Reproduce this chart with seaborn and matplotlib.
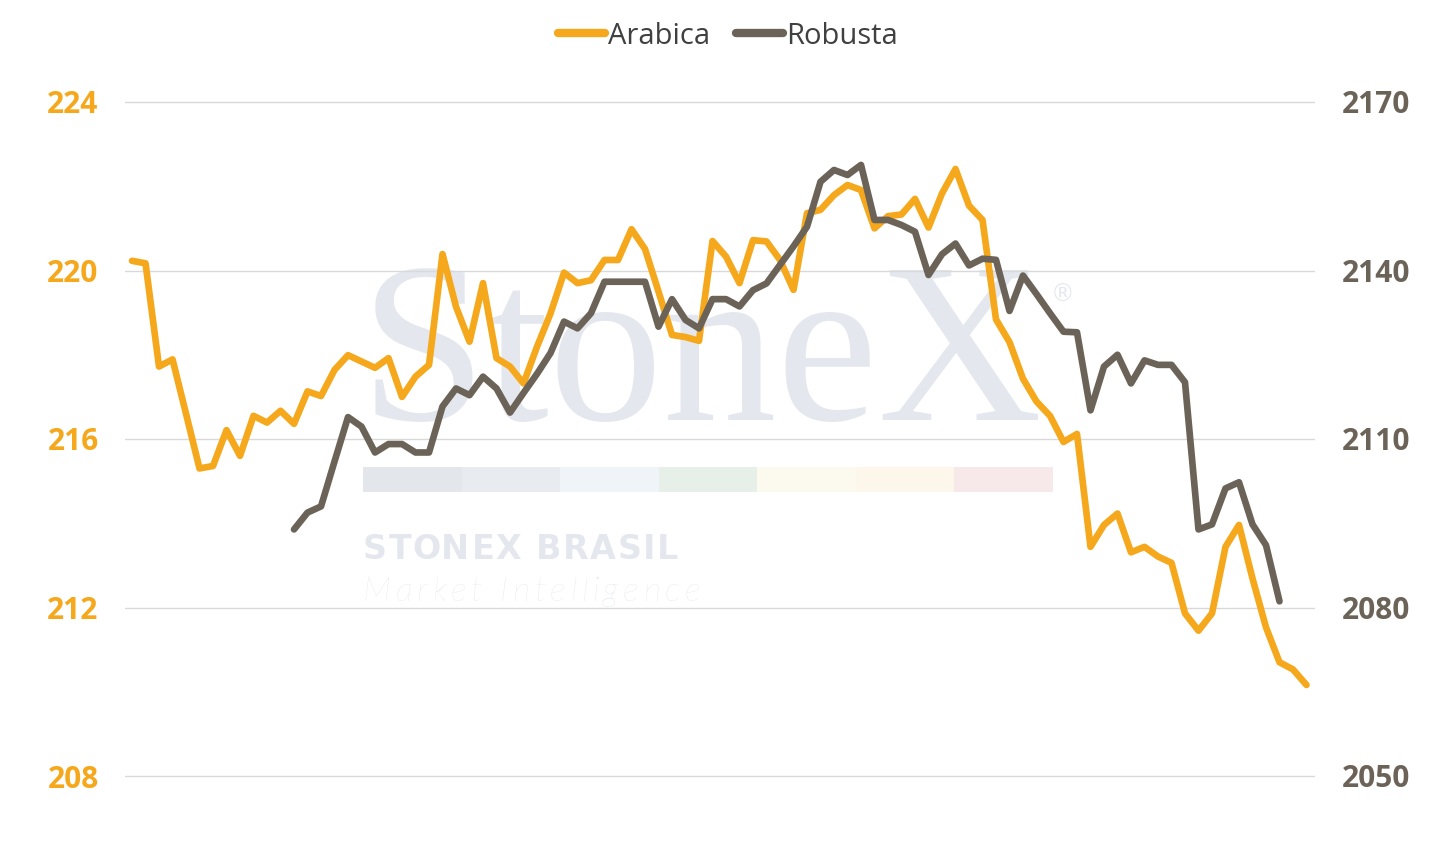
"""
Arabica vs Robusta daily prices, dual axis, with the StoneX watermark.
"""
import matplotlib.pyplot as plt
import numpy as np
import pandas as pd
import seaborn as sns
from matplotlib.lines import Line2D
from matplotlib.patches import Rectangle

ARABICA_COLOR = "#F5A81C"
ROBUSTA_COLOR = "#6B6358"
WATERMARK = "#E4E8EE"
W, H = 1453, 842

# values, one per trading day
arabica = [
    220.23, 220.17, 217.72, 217.89, 216.60, 215.30, 215.36, 216.21, 215.60, 216.55,
    216.39, 216.67, 216.36, 217.13, 217.02, 217.64, 217.99, 217.84, 217.69, 217.92,
    217.00, 217.48, 217.76, 220.39, 219.14, 218.31, 219.70, 217.92, 217.72, 217.32,
    218.19, 218.98, 219.95, 219.70, 219.77, 220.25, 220.25, 220.98, 220.51, 219.50,
    218.47, 218.42, 218.33, 220.70, 220.33, 219.70, 220.72, 220.69, 220.25, 219.54,
    221.36, 221.44, 221.79, 222.03, 221.91, 221.00, 221.29, 221.33, 221.70, 221.02,
    221.83, 222.41, 221.54, 221.20, 218.84, 218.30, 217.43, 216.89, 216.55, 215.93,
    216.12, 213.44, 213.96, 214.23, 213.31, 213.44, 213.21, 213.06, 211.86, 211.45,
    211.86, 213.44, 213.96, 212.69, 211.53, 210.70, 210.53, 210.16,
]

robusta_start = 12
robusta = [
    2093.9, 2096.9, 2098.0, 2106.0, 2113.9, 2112.2, 2107.6, 2109.1, 2109.1, 2107.6,
    2107.6, 2115.8, 2119.0, 2117.8, 2121.1, 2119.0, 2114.7, 2118.2, 2121.6, 2125.3,
    2130.9, 2129.7, 2132.4, 2138.0, 2138.0, 2138.0, 2138.0, 2130.0, 2134.9, 2131.2,
    2129.7, 2134.9, 2134.9, 2133.6, 2136.5, 2137.7, 2141.0, 2144.3, 2147.8, 2155.8,
    2157.9, 2157.0, 2158.8, 2149.0, 2149.0, 2148.1, 2146.9, 2139.2, 2142.9, 2144.8,
    2140.9, 2142.1, 2141.9, 2132.8, 2139.1, 2135.8, 2132.4, 2129.1, 2129.0, 2115.1,
    2122.9, 2125.0, 2119.9, 2124.0, 2123.2, 2123.2, 2120.1, 2093.9, 2094.8, 2101.2,
    2102.3, 2094.8, 2091.1, 2081.1,
]

left_ticks = [208, 212, 216, 220, 224]
right_ticks = [2050, 2080, 2110, 2140, 2170]

brand_colors = ["#E3E7EC", "#E8ECF1", "#EFF4F9", "#E6EFE8",
                "#FCF9EE", "#FDF6EA", "#F7E8E9"]


def build_frame():
    n = len(arabica)
    rob = np.full(n, np.nan)
    rob[robusta_start:robusta_start + len(robusta)] = robusta
    return pd.DataFrame({"day": np.arange(n), "Arabica": arabica, "Robusta": rob})


def spaced_text(fig, x_px, y_px, text, target_px, **kw):
    """Letter-spaced text stretched to target_px: place chars one by one."""
    renderer = fig.canvas.get_renderer()

    def width(s):
        t = fig.text(0, 0, s + "X", **kw)
        t2 = fig.text(0, 0, "X", **kw)
        w = t.get_window_extent(renderer).width - t2.get_window_extent(renderer).width
        t.remove()
        t2.remove()
        return w

    last = fig.text(0, 0, text[-1], **kw)
    natural = width(text[:-1]) + last.get_window_extent(renderer).width
    last.remove()
    tracking = (target_px - natural) / (len(text) - 1)

    for i, ch in enumerate(text):
        if ch == " ":
            continue
        x = x_px + width(text[:i]) + i * tracking
        fig.text(x / W, 1 - y_px / H, ch, ha="left", va="baseline", **kw)


def draw_watermark(fig):
    fx = lambda px: px / W
    fy = lambda py: 1 - py / H

    fig.text(fx(360), fy(420), "StoneX", family="Liberation Serif",
             fontsize=164, color=WATERMARK, va="baseline", ha="left", zorder=-1)
    fig.text(fx(1063), fy(295), "®", family="DejaVu Sans",
             fontsize=17, color=WATERMARK, va="center", ha="center", zorder=-1)

    seg = (1053 - 363) / len(brand_colors)
    for i, c in enumerate(brand_colors):
        fig.patches.append(Rectangle((fx(363 + i * seg), fy(492)), fx(seg), 25 / H,
                                     transform=fig.transFigure, facecolor=c,
                                     edgecolor="none", zorder=-1))

    spaced_text(fig, 363, 559, "STONEX BRASIL", 315, family="DejaVu Sans",
                weight="bold", fontsize=24, color=WATERMARK, zorder=-1)
    spaced_text(fig, 363, 601, "Market Intelligence", 337, family="Lato",
                style="italic", weight="light", fontsize=24.5, color="#DFE3E9",
                zorder=-1)


def plot_chart(df, output_path):
    sns.set_theme(style="white")
    plt.rcParams["font.family"] = ["Open Sans", "DejaVu Sans"]

    fig = plt.figure(figsize=(W / 100, H / 100), dpi=100)
    draw_watermark(fig)

    # a little headroom so the 208 / 224 grid lines are not clipped
    pad_units = 0.1
    px_per_unit = 674 / 16
    pad_px = pad_units * px_per_unit
    ax = fig.add_axes([125 / W, 1 - (776 + pad_px) / H, 1190 / W,
                       (674 + 2 * pad_px) / H])
    ax.patch.set_alpha(0)
    ax2 = ax.twinx()

    sns.lineplot(data=df, x="day", y="Arabica", ax=ax, color=ARABICA_COLOR,
                 linewidth=4.8, solid_capstyle="round", solid_joinstyle="round",
                 zorder=3)
    sns.lineplot(data=df, x="day", y="Robusta", ax=ax2, color=ROBUSTA_COLOR,
                 linewidth=4.8, solid_capstyle="round", solid_joinstyle="round",
                 zorder=3)

    ax.set_xlim(-0.52, 87.63)
    ax.set_ylim(208 - pad_units, 224 + pad_units)
    ax2.set_ylim(2050 - pad_units * 7.5, 2170 + pad_units * 7.5)
    ax.set_yticks(left_ticks, labels=[str(v) for v in left_ticks],
                  fontweight="bold", fontsize=21.5, color=ARABICA_COLOR)
    ax2.set_yticks(right_ticks, labels=[str(v) for v in right_ticks],
                   fontweight="bold", fontsize=21.5, color=ROBUSTA_COLOR)
    ax.set_xticks([])
    ax.set_xlabel("")
    ax.set_ylabel("")
    ax2.set_ylabel("")

    ax.grid(axis="y", color="#D9D9D9", linewidth=1)
    ax.set_axisbelow(True)
    for a in (ax, ax2):
        for s in a.spines.values():
            s.set_visible(False)

    ax.tick_params(axis="y", length=0, pad=19)
    ax2.tick_params(axis="y", length=0, pad=19)

    handles = [
        Line2D([], [], color=ARABICA_COLOR, linewidth=6, solid_capstyle="round"),
        Line2D([], [], color=ROBUSTA_COLOR, linewidth=6, solid_capstyle="round"),
    ]
    fig.legend(handles, ["Arabica", "Robusta"], loc="center",
               bbox_to_anchor=(728 / W, 1 - 36 / H), ncol=2, frameon=False,
               fontsize=21, labelcolor="#404040", handlelength=1.6,
               handletextpad=0.1, columnspacing=0.9)

    fig.savefig(output_path, dpi=100)
    plt.close(fig)
    print(f"Chart saved: {output_path}")


if __name__ == "__main__":
    plot_chart(build_frame(), "out.png")
